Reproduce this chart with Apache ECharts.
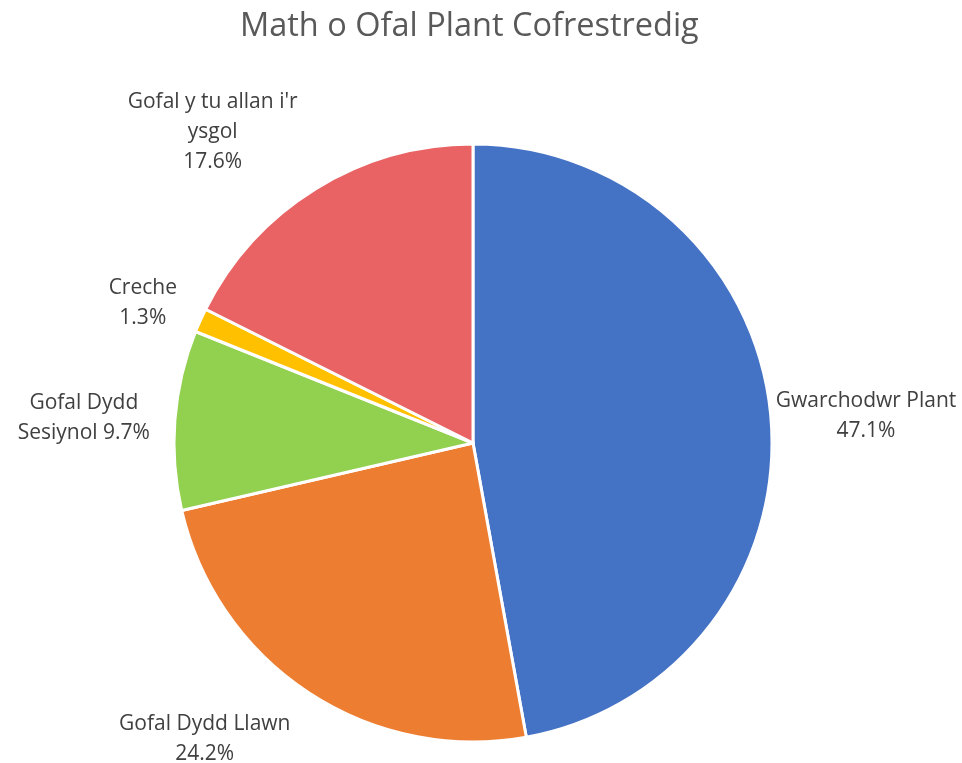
<!DOCTYPE html>
<html><head><meta charset="utf-8">
<script src="https://cdn.jsdelivr.net/npm/echarts@6/dist/echarts.min.js"></script>
<style>html,body{margin:0;padding:0;background:#fff}#c{width:962px;height:763px}</style>
</head><body><div id="c"></div>
<script>
const categories = ["Gwarchodwr Plant", "Gofal Dydd Llawn", "Gofal Dydd Sesiynol", "Creche", "Gofal y tu allan i'r ysgol"];
const labelNames = ["Gwarchodwr Plant\n", "Gofal Dydd Llawn\n", "Gofal Dydd\nSesiynol ", "Creche\n", "Gofal y tu allan i'r\nysgol\n"];
const values = [47.1, 24.2, 9.7, 1.3, 17.6];
const colors = ["#4472C4", "#ED7D31", "#92D050", "#FFC000", "#E96264"];
const labelGap = [5, 55, 25, 41, 67];
const labelGap2 = [0, -12, 0, -14, -17];

const chart = echarts.init(document.getElementById('c'));
chart.setOption({
  animation: false,
  title: {
    text: 'Math o Ofal Plant Cofrestredig',
    left: 235, top: 5,
    textStyle: { fontFamily: 'Open Sans', fontSize: 32.5, fontWeight: 'normal', color: '#595959' }
  },
  series: [{
    type: 'pie',
    center: [473, 443],
    radius: 299,
    startAngle: 90,
    clockwise: true,
    avoidLabelOverlap: false,
    data: categories.map((c, i) => ({
      name: c, value: values[i], itemStyle: { color: colors[i] },
      labelLine: { length: labelGap[i], length2: labelGap2[i] }
    })),
    itemStyle: { borderColor: '#fff', borderWidth: 3 },
    label: {
      show: true,
      position: 'outside',
      distanceToLabelLine: 0,
      formatter: p => labelNames[p.dataIndex] + values[p.dataIndex].toFixed(1) + '%',
      fontFamily: 'Open Sans', fontSize: 21, color: '#404040', lineHeight: 30
    },
    labelLine: { show: false },
    labelLayout: p => ({
      x: p.labelRect.x + p.labelRect.width / 2,
      y: p.labelRect.y + p.labelRect.height / 2,
      align: 'center', verticalAlign: 'middle'
    })
  }]
});
</script></body></html>
